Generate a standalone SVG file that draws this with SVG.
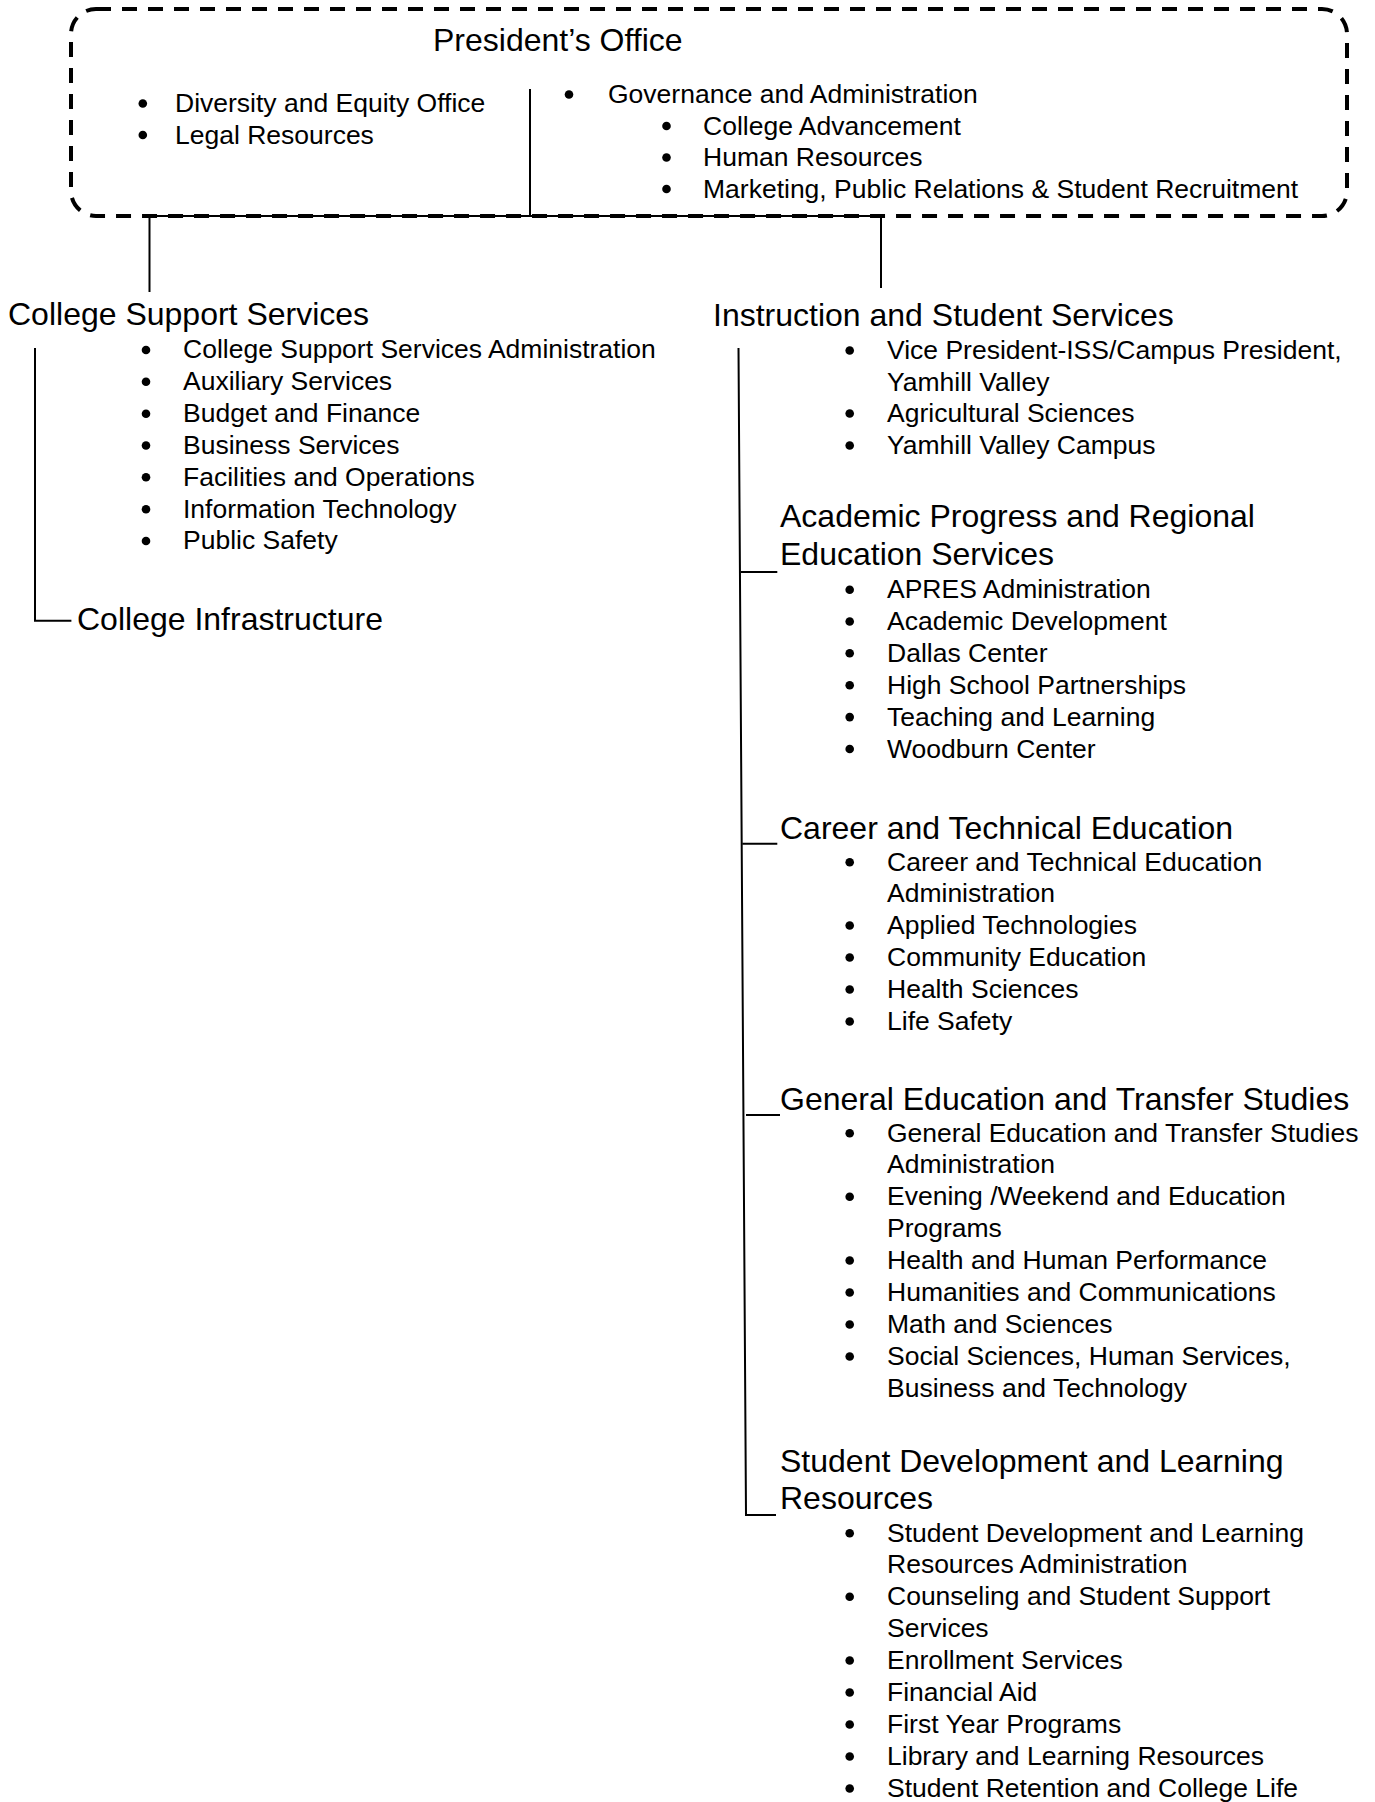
<svg xmlns="http://www.w3.org/2000/svg" xmlns:xlink="http://www.w3.org/1999/xlink" width="1375" height="1802" viewBox="0 0 1375 1802">
  <style>
    text { font-family: "Liberation Sans", Arial, sans-serif; fill: #000; }
    .h { font-size: 32px; }
    .i { font-size: 26.5px; }
    .ln { stroke: #000; stroke-width: 2; fill: none; }
    .dash { stroke: #000; stroke-width: 4; fill: none; stroke-dasharray: 15 11; }
  </style>
  <defs>
    <!-- list bullet -->
    <circle id="bul" r="4.3" fill="#000"/>
  </defs>
  <rect width="1375" height="1802" fill="#fff"/>

  <!-- connectors -->
  <g id="connectors">
    <line class="ln" x1="530" y1="89" x2="530" y2="216"/>
    <line class="ln" x1="149.5" y1="216" x2="881" y2="216"/>
    <line class="ln" x1="149.5" y1="216" x2="149.5" y2="292"/>
    <line class="ln" x1="881" y1="216" x2="881" y2="288"/>
    <path class="ln" d="M35,348 V620.7 H71.4"/>
    <path class="ln" d="M738.5,348 L746,1515 H776"/>
    <line class="ln" x1="741" y1="572" x2="777.3" y2="572"/>
    <line class="ln" x1="742.3" y1="843.7" x2="777.3" y2="843.7"/>
    <line class="ln" x1="746" y1="1115" x2="780" y2="1115"/>
  </g>

  <!-- President's Office -->
  <g id="president-office">
    <rect class="dash" x="71" y="9" width="1276" height="207" rx="25" ry="25"/>
    <text class="h" x="433" y="51">President’s Office</text>
    <use xlink:href="#bul" x="142.8" y="103.5"/>
    <text class="i" x="175" y="112">Diversity and Equity Office</text>
    <use xlink:href="#bul" x="142.8" y="135"/>
    <text class="i" x="175" y="143.5">Legal Resources</text>
    <use xlink:href="#bul" x="569" y="94.5"/>
    <text class="i" x="608" y="103.3">Governance and Administration</text>
    <use xlink:href="#bul" x="666.5" y="126"/>
    <text class="i" x="703" y="134.5">College Advancement</text>
    <use xlink:href="#bul" x="666.5" y="157.5"/>
    <text class="i" x="703" y="166">Human Resources</text>
    <use xlink:href="#bul" x="666.5" y="189"/>
    <text class="i" x="703" y="197.5">Marketing, Public Relations &amp; Student Recruitment</text>
  </g>

  <!-- College Support Services -->
  <g id="college-support-services">
    <text class="h" x="8" y="325">College Support Services</text>
    <use xlink:href="#bul" x="146" y="350"/>
    <text class="i" x="183" y="358.3">College Support Services Administration</text>
    <use xlink:href="#bul" x="146" y="381.8"/>
    <text class="i" x="183" y="390.1">Auxiliary Services</text>
    <use xlink:href="#bul" x="146" y="413.7"/>
    <text class="i" x="183" y="422">Budget and Finance</text>
    <use xlink:href="#bul" x="146" y="445.5"/>
    <text class="i" x="183" y="453.8">Business Services</text>
    <use xlink:href="#bul" x="146" y="477.3"/>
    <text class="i" x="183" y="485.6">Facilities and Operations</text>
    <use xlink:href="#bul" x="146" y="509.2"/>
    <text class="i" x="183" y="517.5">Information Technology</text>
    <use xlink:href="#bul" x="146" y="541"/>
    <text class="i" x="183" y="549.3">Public Safety</text>
  </g>

  <!-- College Infrastructure -->
  <g id="college-infrastructure">
    <text class="h" x="77" y="629.5">College Infrastructure</text>
  </g>

  <!-- Instruction and Student Services -->
  <g id="instruction-student-services">
    <text class="h" x="713" y="325.5">Instruction and Student Services</text>
    <use xlink:href="#bul" x="849.7" y="350.5"/>
    <text class="i" x="887" y="359">Vice President-ISS/Campus President,</text>
    <text class="i" x="887" y="390.5">Yamhill Valley</text>
    <use xlink:href="#bul" x="849.7" y="413.5"/>
    <text class="i" x="887" y="422">Agricultural Sciences</text>
    <use xlink:href="#bul" x="849.7" y="445.5"/>
    <text class="i" x="887" y="454">Yamhill Valley Campus</text>
  </g>

  <!-- Academic Progress and Regional Education Services -->
  <g id="academic-progress">
    <text class="h" x="780" y="527">Academic Progress and Regional</text>
    <text class="h" x="780" y="565.3">Education Services</text>
    <use xlink:href="#bul" x="849.7" y="589.8"/>
    <text class="i" x="887" y="598.3">APRES Administration</text>
    <use xlink:href="#bul" x="849.7" y="621.5"/>
    <text class="i" x="887" y="630">Academic Development</text>
    <use xlink:href="#bul" x="849.7" y="653.3"/>
    <text class="i" x="887" y="661.8">Dallas Center</text>
    <use xlink:href="#bul" x="849.7" y="685.2"/>
    <text class="i" x="887" y="693.7">High School Partnerships</text>
    <use xlink:href="#bul" x="849.7" y="717.1"/>
    <text class="i" x="887" y="725.6">Teaching and Learning</text>
    <use xlink:href="#bul" x="849.7" y="749"/>
    <text class="i" x="887" y="757.5">Woodburn Center</text>
  </g>

  <!-- Career and Technical Education -->
  <g id="career-technical-education">
    <text class="h" x="780" y="838.5">Career and Technical Education</text>
    <use xlink:href="#bul" x="849.7" y="862.2"/>
    <text class="i" x="887" y="870.7">Career and Technical Education</text>
    <text class="i" x="887" y="902.3">Administration</text>
    <use xlink:href="#bul" x="849.7" y="925.5"/>
    <text class="i" x="887" y="934">Applied Technologies</text>
    <use xlink:href="#bul" x="849.7" y="957.5"/>
    <text class="i" x="887" y="966">Community Education</text>
    <use xlink:href="#bul" x="849.7" y="989.5"/>
    <text class="i" x="887" y="998">Health Sciences</text>
    <use xlink:href="#bul" x="849.7" y="1021.5"/>
    <text class="i" x="887" y="1030">Life Safety</text>
  </g>

  <!-- General Education and Transfer Studies -->
  <g id="general-education-transfer">
    <text class="h" x="780" y="1110">General Education and Transfer Studies</text>
    <use xlink:href="#bul" x="849.7" y="1133.2"/>
    <text class="i" x="887" y="1141.7">General Education and Transfer Studies</text>
    <text class="i" x="887" y="1173.3">Administration</text>
    <use xlink:href="#bul" x="849.7" y="1196.8"/>
    <text class="i" x="887" y="1205.3">Evening /Weekend and Education</text>
    <text class="i" x="887" y="1237">Programs</text>
    <use xlink:href="#bul" x="849.7" y="1260.5"/>
    <text class="i" x="887" y="1269">Health and Human Performance</text>
    <use xlink:href="#bul" x="849.7" y="1292.5"/>
    <text class="i" x="887" y="1301">Humanities and Communications</text>
    <use xlink:href="#bul" x="849.7" y="1324.5"/>
    <text class="i" x="887" y="1333">Math and Sciences</text>
    <use xlink:href="#bul" x="849.7" y="1356.5"/>
    <text class="i" x="887" y="1365">Social Sciences, Human Services,</text>
    <text class="i" x="887" y="1397">Business and Technology</text>
  </g>

  <!-- Student Development and Learning Resources -->
  <g id="student-development">
    <text class="h" x="780" y="1471.7">Student Development and Learning</text>
    <text class="h" x="780" y="1509.3">Resources</text>
    <use xlink:href="#bul" x="849.7" y="1533.2"/>
    <text class="i" x="887" y="1541.7">Student Development and Learning</text>
    <text class="i" x="887" y="1573.3">Resources Administration</text>
    <use xlink:href="#bul" x="849.7" y="1596.8"/>
    <text class="i" x="887" y="1605.3">Counseling and Student Support</text>
    <text class="i" x="887" y="1637">Services</text>
    <use xlink:href="#bul" x="849.7" y="1660.5"/>
    <text class="i" x="887" y="1669">Enrollment Services</text>
    <use xlink:href="#bul" x="849.7" y="1692.5"/>
    <text class="i" x="887" y="1701">Financial Aid</text>
    <use xlink:href="#bul" x="849.7" y="1724.5"/>
    <text class="i" x="887" y="1733">First Year Programs</text>
    <use xlink:href="#bul" x="849.7" y="1756.5"/>
    <text class="i" x="887" y="1765">Library and Learning Resources</text>
    <use xlink:href="#bul" x="849.7" y="1788.5"/>
    <text class="i" x="887" y="1797">Student Retention and College Life</text>
  </g>
</svg>
